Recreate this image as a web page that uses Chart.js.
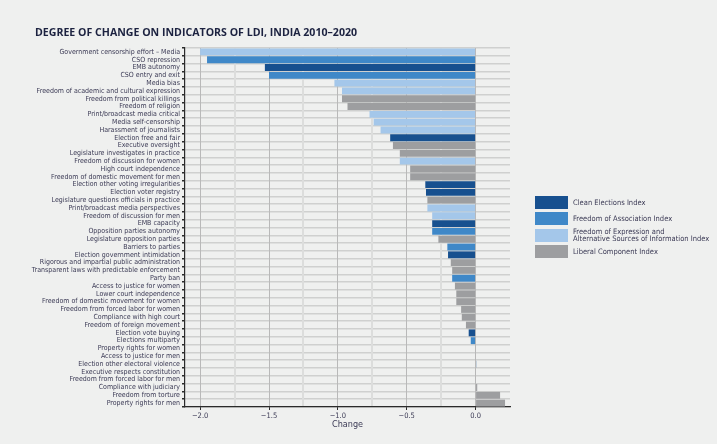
<!DOCTYPE html>
<html>
<head>
<meta charset="utf-8">
<script src="https://cdn.jsdelivr.net/npm/chart.js@4"></script>
<style>
  body { margin: 0; background: #eff0ef; }
  #wrap { position: relative; width: 717px; height: 444px; }
  #title { position: absolute; left: 35px; top: 25px; font: bold 10.6px "Open Sans", sans-serif; color: #1c2240; }
  #legend { position: absolute; left: 535px; top: 196px; font: 7.5px "Liberation Sans Narrow", "DejaVu Sans Condensed", sans-serif; color: #3b3a55; }
  .item { display: flex; align-items: center; height: 13px; margin-bottom: 3.3px; }
  .sw { width: 33px; height: 13px; margin-right: 5px; flex: none; }
  .item span { line-height: 7.5px; }
</style>
</head>
<body>
<div id="wrap">
  <div id="title">DEGREE OF CHANGE ON INDICATORS OF LDI, INDIA 2010–2020</div>
  <canvas id="chart" width="717" height="444"></canvas>
  <div id="legend"></div>
</div>
<script>
// indicator names, top to bottom
const indicators = [
  "Government censorship effort – Media", "CSO repression", "EMB autonomy", "CSO entry and exit",
  "Media bias", "Freedom of academic and cultural expression", "Freedom from political killings",
  "Freedom of religion", "Print/broadcast media critical", "Media self-censorship",
  "Harassment of journalists", "Election free and fair", "Executive oversight",
  "Legislature investigates in practice", "Freedom of discussion for women", "High court independence",
  "Freedom of domestic movement for men", "Election other voting irregularities", "Election voter registry",
  "Legislature questions officials in practice", "Print/broadcast media perspectives",
  "Freedom of discussion for men", "EMB capacity", "Opposition parties autonomy",
  "Legislature opposition parties", "Barriers to parties", "Election government intimidation",
  "Rigorous and impartial public administration", "Transparent laws with predictable enforcement",
  "Party ban", "Access to justice for women", "Lower court independence",
  "Freedom of domestic movement for women", "Freedom from forced labor for women",
  "Compliance with high court", "Freedom of foreign movement", "Election vote buying",
  "Elections multiparty", "Property rights for women", "Access to justice for men",
  "Election other electoral violence", "Executive respects constitution",
  "Freedom from forced labor for men", "Compliance with judiciary", "Freedom from torture",
  "Property rights for men"
];

// change 2010-2020
const change = [
  -2.0, -1.95, -1.53, -1.50, -1.025, -0.97, -0.97, -0.93, -0.77, -0.74, -0.69, -0.62,
  -0.60, -0.55, -0.55, -0.475, -0.475, -0.365, -0.36, -0.35, -0.35, -0.315, -0.315, -0.315,
  -0.27, -0.205, -0.20, -0.18, -0.17, -0.17, -0.15, -0.14, -0.14, -0.105, -0.10, -0.07,
  -0.05, -0.035, -0.004, -0.004, 0.005, -0.004, -0.004, 0.012, 0.178, 0.214
];

// which index each indicator belongs to (0..3, see indexNames)
const indexOf = [
  2, 1, 0, 1, 2, 2, 3, 3, 2, 2, 2, 0, 3, 3, 2, 3, 3, 0, 0, 3, 2, 2, 0, 1,
  3, 1, 0, 3, 3, 1, 3, 3, 3, 3, 3, 3, 0, 1, 3, 3, 0, 3, 3, 3, 3, 3
];

const indexNames = [
  "Clean Elections Index",
  "Freedom of Association Index",
  ["Freedom of Expression and", "Alternative Sources of Information Index"],
  "Liberal Component Index"
];
const indexColors = ["#17508f", "#3f88c8", "#a4c7ea", "#9d9ea0"];

const xTicks = [-2.0, -1.75, -1.5, -1.25, -1.0, -0.75, -0.5, -0.25, 0.0, 0.25];

const labelFont = "'Liberation Sans Narrow', 'DejaVu Sans Condensed', sans-serif";

const isMajor = (v) => Math.abs(v * 2 - Math.round(v * 2)) < 1e-6;

const datasets = indexNames.map((name, k) => ({
  label: Array.isArray(name) ? name.join(" ") : name,
  data: change.map((v, i) => indexOf[i] === k ? v : null),
  backgroundColor: indexColors[k],
  barPercentage: 0.88,
  categoryPercentage: 1.0
}));

new Chart(document.getElementById("chart"), {
  type: "bar",
  data: { labels: indicators, datasets: datasets },
  options: {
    indexAxis: "y",
    responsive: false,
    animation: false,
    layout: { padding: { top: 48, right: 207, left: 0, bottom: 0 } },
    plugins: { legend: { display: false }, tooltip: { enabled: false } },
    scales: {
      y: {
        stacked: true,
        afterFit: (s) => { s.width = 185; },
        border: { color: "#2b2b2b", width: 1.2 },
        grid: { color: "#cfd0cf", lineWidth: 1.5, tickColor: "#2b2b2b", tickLength: 3 },
        ticks: { autoSkip: false, color: "#3b3a55", padding: 2, font: { family: labelFont, size: 7 } }
      },
      x: {
        stacked: true,
        min: -2.11,
        max: 0.25,
        afterBuildTicks: (s) => { s.ticks = xTicks.map(v => ({ value: v })); },
        afterFit: (s) => { s.height = 37; },
        border: { color: "#2b2b2b", width: 1.2 },
        grid: {
          color: (c) => c.tick.value > 0 ? "rgba(0,0,0,0)" : (isMajor(c.tick.value) ? "#b9b9b9" : "#dcdddc"),
          lineWidth: (c) => isMajor(c.tick.value) ? 1 : 2,
          tickColor: (c) => isMajor(c.tick.value) && c.tick.value <= 0 ? "#2b2b2b" : "rgba(0,0,0,0)",
          tickLength: 3
        },
        ticks: {
          color: "#3b3a55",
          padding: 2,
          maxRotation: 0,
          font: { family: labelFont, size: 7.5 },
          callback: (v) => {
            if (!isMajor(v) || v > 0) return "";
            return (v < 0 ? "\u2212" : "") + Math.abs(v).toFixed(1);
          }
        },
        title: {
          display: true,
          text: "Change",
          color: "#3b3a55",
          font: { family: labelFont, size: 9 },
          padding: { top: 2, bottom: 14 }
        }
      }
    }
  }
});

// legend on the right
const legend = document.getElementById("legend");
indexNames.forEach((name, k) => {
  const row = document.createElement("div");
  row.className = "item";
  const text = Array.isArray(name) ? name.join("<br>") : name;
  row.innerHTML = `<div class="sw" style="background:${indexColors[k]}"></div><span>${text}</span>`;
  legend.appendChild(row);
});
</script>
</body>
</html>
